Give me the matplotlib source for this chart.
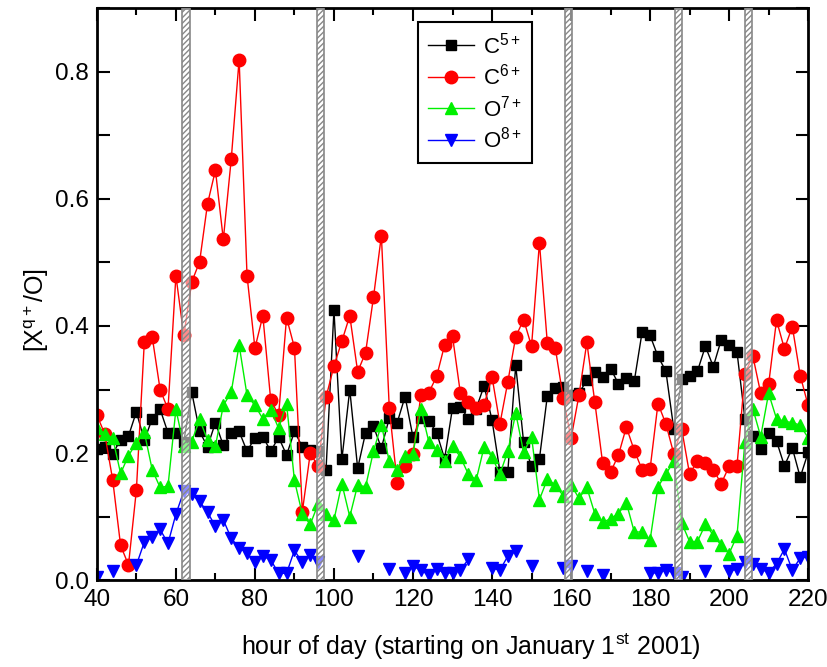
import numpy as np
import matplotlib
matplotlib.use("Agg")
import matplotlib.pyplot as plt
from matplotlib.ticker import MultipleLocator

plt.rcParams['font.family'] = ['Liberation Sans', 'DejaVu Sans']
plt.rcParams['mathtext.fontset'] = 'custom'
plt.rcParams['mathtext.rm'] = 'Liberation Sans'
plt.rcParams['mathtext.it'] = 'Liberation Sans'

# hours sampled every 2 h
hours = list(range(40, 222, 2))
nan = np.nan

c5 = [0.207, 0.21, 0.199, 0.221, 0.227, 0.265, 0.220, 0.254, 0.269, 0.232,
      0.232, 0.218, 0.296, 0.234, 0.210, 0.248, 0.212, 0.232, 0.234, 0.203,
      0.224, 0.226, 0.203, 0.225, 0.197, 0.234, 0.210, 0.205, 0.204, 0.174,
      0.425, 0.190, 0.300, 0.176, 0.232, 0.242, 0.208, 0.255, 0.248, 0.289,
      0.225, 0.255, 0.251, 0.232, 0.191, 0.271, 0.273, 0.254, 0.270, 0.306,
      0.252, 0.171, 0.171, 0.338, 0.217, 0.179, 0.191, 0.290, 0.303, 0.304,
      0.292, 0.294, 0.315, 0.328, 0.320, 0.333, 0.309, 0.318, 0.313, 0.391,
      0.385, 0.352, 0.329, 0.238, 0.316, 0.321, 0.329, 0.368, 0.336, 0.378,
      0.370, 0.359, 0.254, 0.227, 0.206, 0.232, 0.219, 0.180, 0.208, 0.162,
      0.201]

c6 = [0.26, 0.23, 0.158, 0.055, 0.024, 0.142, 0.374, 0.383, 0.300, 0.269,
      0.479, 0.385, 0.469, 0.501, 0.592, 0.645, 0.536, 0.662, 0.819, 0.479,
      0.365, 0.416, 0.283, 0.260, 0.413, 0.366, 0.108, 0.200, 0.179, 0.288,
      0.337, 0.376, 0.416, 0.328, 0.358, 0.445, 0.542, 0.271, 0.153, 0.179,
      0.199, 0.291, 0.295, 0.321, 0.370, 0.384, 0.294, 0.280, 0.271, 0.276,
      0.320, 0.246, 0.312, 0.383, 0.410, 0.368, 0.531, 0.373, 0.366, 0.287,
      0.223, 0.291, 0.374, 0.281, 0.184, 0.170, 0.197, 0.241, 0.204, 0.174,
      0.175, 0.278, 0.246, 0.199, 0.238, 0.167, 0.188, 0.184, 0.174, 0.152,
      0.179, 0.180, 0.325, 0.353, 0.294, 0.308, 0.409, 0.364, 0.399, 0.322,
      0.275]

o7 = [0.240, 0.230, 0.224, 0.168, 0.196, 0.216, 0.233, 0.174, 0.146, 0.148,
      0.269, 0.211, 0.218, 0.253, 0.221, 0.211, 0.275, 0.296, 0.370, 0.291,
      0.275, 0.254, 0.268, 0.239, 0.278, 0.157, 0.104, 0.088, 0.120, 0.104,
      0.095, 0.152, 0.100, 0.150, 0.147, 0.203, 0.245, 0.187, 0.174, 0.195,
      0.199, 0.270, 0.218, 0.205, 0.187, 0.211, 0.194, 0.167, 0.158, 0.210,
      0.194, 0.167, 0.203, 0.263, 0.201, 0.226, 0.127, 0.159, 0.150, 0.133,
      0.150, 0.129, 0.146, 0.105, 0.091, 0.097, 0.105, 0.122, 0.076, 0.076,
      0.063, 0.147, 0.167, 0.187, 0.090, 0.061, 0.061, 0.088, 0.071, 0.055,
      0.042, 0.070, 0.218, 0.270, 0.226, 0.294, 0.254, 0.250, 0.248, 0.244,
      0.224]

o8 = [0.005, nan, 0.015, nan, nan, 0.024, 0.060, 0.068, 0.080, 0.058,
      0.104, 0.140, 0.135, 0.124, 0.107, 0.085, 0.095, 0.066, 0.051, 0.043,
      0.028, 0.038, 0.032, 0.011, 0.011, 0.047, 0.028, 0.040, 0.028, nan,
      nan, nan, nan, 0.038, nan, nan, nan, 0.018, nan, 0.011,
      0.022, 0.016, 0.008, 0.018, 0.011, 0.012, 0.016, 0.033, nan, nan,
      0.019, 0.016, 0.038, 0.046, nan, 0.022, nan, nan, nan, 0.019,
      0.022, nan, 0.014, nan, 0.008, nan, nan, nan, nan, nan,
      0.011, 0.012, 0.016, 0.012, 0.005, nan, nan, 0.014, nan, nan,
      0.015, 0.017, 0.029, 0.026, 0.018, 0.012, 0.026, 0.049, 0.016, 0.035,
      0.037]

# excluded intervals (hours)
gaps = [(61.5, 63.5), (95.8, 97.6), (158.5, 160.3), (186.3, 188.2), (203.9, 205.7)]

fig = plt.figure(figsize=(8.28, 6.67), dpi=100)
ax = fig.add_axes([0.117, 0.130, 0.859, 0.858])

ax.plot(hours, c5, '-s', color='k', lw=1, ms=7.5, label='C$^{5+}$')
ax.plot(hours, c6, '-o', color='#ff0000', lw=1, ms=9, label='C$^{6+}$')
ax.plot(hours, o7, '-^', color='#00f000', lw=1, ms=9, label='O$^{7+}$')
ax.plot(hours, o8, '-v', color='#0000ff', lw=1, ms=9, label='O$^{8+}$')

for a, b in gaps:
    ax.axvspan(a, b, facecolor=(1, 1, 1, 0.55), edgecolor='#888888',
               hatch='//////', lw=1.2, zorder=5)

ax.set_xlim(40, 220)
ax.set_ylim(0, 0.9)
ax.xaxis.set_major_locator(MultipleLocator(20))
ax.xaxis.set_minor_locator(MultipleLocator(10))
ax.yaxis.set_major_locator(MultipleLocator(0.2))
ax.yaxis.set_minor_locator(MultipleLocator(0.1))
ax.yaxis.set_major_formatter(plt.FormatStrFormatter('%.1f'))
ax.tick_params(which='both', direction='in', top=True, right=True,
               width=1.5, labelsize=17.5)
ax.tick_params(which='major', length=9, pad=6)
ax.tick_params(which='minor', length=5)
ax.tick_params(axis='y', which='minor', length=9)
for s in ax.spines.values():
    s.set_linewidth(2)

ax.set_xlabel('hour of day (starting on January 1$^{\\mathrm{st}}$ 2001)',
              fontsize=18)
ax.xaxis.set_label_coords(0.526, -0.09)
ax.set_ylabel('[X$^{\\mathrm{q+}}$/O]', fontsize=18)
ax.yaxis.set_label_coords(-0.065, 0.472)

leg = ax.legend(loc='upper left', bbox_to_anchor=(0.451, 0.975), fontsize=16,
                fancybox=False, edgecolor='k', framealpha=1, handlelength=2.1,
                handletextpad=0.4, labelspacing=0.25, borderpad=0.45,
                borderaxespad=0)
leg.get_frame().set_linewidth(1.5)
leg.set_zorder(10)

fig.savefig('out.png', dpi=100)
